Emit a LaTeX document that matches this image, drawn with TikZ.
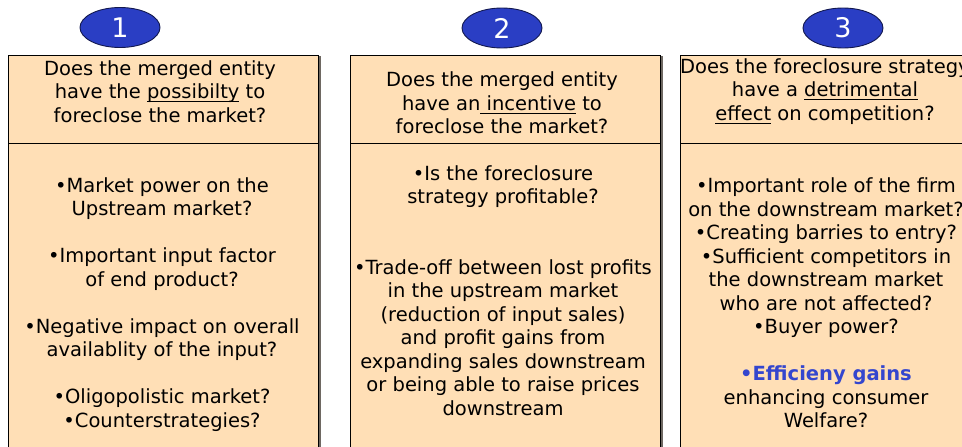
\documentclass[tikz,border=0pt]{standalone}
\usepackage{fontspec}
\setmainfont{DejaVu Sans}
\usetikzlibrary{shapes.geometric}
\definecolor{peach}{RGB}{255,223,182}
\definecolor{badgeblue}{RGB}{42,62,196}
\definecolor{badgeline}{RGB}{18,24,78}
\definecolor{hiblue}{RGB}{52,70,206}
\definecolor{edgeshade}{RGB}{110,104,98}
% underline drawn just under the baseline, independent of descenders
\newcommand\ulword[1]{\setbox0\hbox{#1}\rlap{\rule[-3.6pt]{\wd0}{1.1pt}}\box0\relax}
\begin{document}
\begin{tikzpicture}[x=1pt,y=-1pt,
  panel/.style={fill=peach,draw=black,line width=0.9pt},
  shade/.style={draw=edgeshade,line width=1.4pt},
  badge/.style={ellipse,fill=badgeblue,draw=badgeline,line width=0.9pt,
    minimum width=80pt,minimum height=40pt,inner sep=0pt,text=white,
    font=\fontsize{27}{30}\selectfont},
  txt/.style={align=center,inner sep=0pt,text=black,
    font=\fontsize{19.5}{23.5}\selectfont}]
\useasboundingbox (0,0) rectangle (962,447);
\clip (0,0) rectangle (962,447);

% three panels, each split into a question and a checklist
\foreach \l/\r in {8.5/318.5, 350.5/660.5, 680.5/990} {
  \draw[shade] (\r+1.4,56) -- (\r+1.4,460);
  \path[panel] (\l,55.5) rectangle (\r,460);
  \draw[line width=0.9pt] (\l,143.5) -- (\r,143.5);
}

% step badges
\node[badge] (b1) at (120,27.5) {1};
\node[badge] (b2) at (502,28) {2};
\node[badge] (b3) at (843,28) {3};

% questions
\node[txt] (q1) at (160,91.5) {Does the merged entity\\have the \ulword{possibilty} to\\foreclose the market?};
\node[txt] (q2) at (502,103) {Does the merged entity\\have an\ulword{\ incentive} to\\foreclose the market?};
\node[txt] (q3) at (825,91.5) {Does the foreclosure strategy\\have a \ulword{detrimental}\\\ulword{effect} on competition?};

% checklists
\node[txt] (c1) at (162,304.5) {•Market power on the\\Upstream market?\\[23.5pt]
  •Important input factor\\of end product?\\[23.5pt]
  •Negative impact on overall\\availablity of the input?\\[23.5pt]
  •Oligopolistic market?\\•Counterstrategies?};
\node[txt] (c2) at (503,290.5) {•Is the foreclosure\\strategy profitable?\\[47pt]
  •Trade-off between lost profits\\in the upstream market\\(reduction of input sales)\\
  and profit gains from\\expanding sales downstream\\or being able to raise prices\\downstream};
\node[txt] (c3) at (826,303) {•Important role of the firm\\on the downstream market?\\
  •Creating barries to entry?\\•Sufficient competitors in\\the downstream market\\
  who are not affected?\\•Buyer power?\\[23.5pt]
  {\color{hiblue}\bfseries •Efficieny gains}\\enhancing consumer\\Welfare?};
\end{tikzpicture}
\end{document}
